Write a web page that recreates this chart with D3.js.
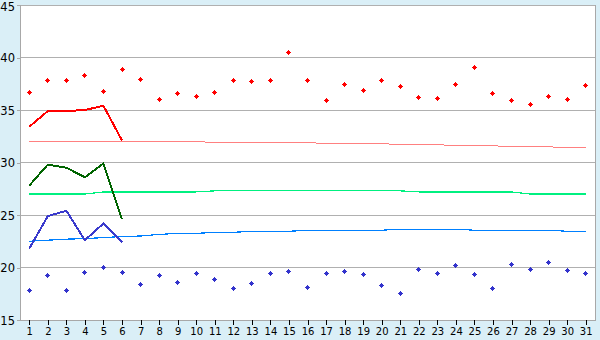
<!DOCTYPE html>
<html>
<head>
<meta charset="utf-8">
<script src="https://cdn.jsdelivr.net/npm/d3@7"></script>
<style>
    body { margin: 0; background: #daeff7; }
    svg { display: block; font-family: "DejaVu Sans", Verdana, sans-serif; }
</style>
</head>
<body>
<div id="chart"></div>
<script>
// days of the month
const days = [1,2,3,4,5,6,7,8,9,10,11,12,13,14,15,16,17,18,19,20,21,22,23,24,25,26,27,28,29,30,31];
const yTicks = [15,20,25,30,35,40,45];

// daily max / min points
const maxPoints = [36.7,37.8,37.8,38.3,36.8,38.9,37.9,36.0,36.6,36.3,36.7,37.8,37.7,37.8,40.5,37.8,35.9,37.4,36.9,37.8,37.2,36.2,36.1,37.4,39.0,36.6,35.9,35.5,36.3,36.0,37.3];
const minPoints = [17.8,19.2,17.8,19.5,20.0,19.5,18.4,19.2,18.6,19.4,18.9,18.0,18.5,19.4,19.6,18.1,19.4,19.6,19.3,18.3,17.5,19.8,19.4,20.2,19.3,18.0,20.3,19.8,20.5,19.7,19.4];

// current lines (first 6 days)
const lineHigh = [33.4,34.9,34.9,35.0,35.4,32.1];
const lineMean = [27.8,29.8,29.5,28.6,29.9,24.6];
const lineLow  = [21.8,24.9,25.4,22.6,24.2,22.4];

// normals
const normHigh = [32.0,32.0,32.0,32.0,32.0,32.0,32.0,32.0,32.0,32.0,31.9,31.9,31.9,31.9,31.9,31.9,31.8,31.8,31.8,31.8,31.7,31.7,31.7,31.6,31.6,31.6,31.5,31.5,31.5,31.4,31.4];
const normMean = [27.0,27.0,27.0,27.0,27.2,27.2,27.2,27.2,27.2,27.2,27.3,27.3,27.3,27.3,27.3,27.3,27.3,27.3,27.3,27.3,27.3,27.2,27.2,27.2,27.2,27.2,27.2,27.0,27.0,27.0,27.0];
const normLow  = [22.5,22.6,22.7,22.75,22.85,22.95,23.0,23.15,23.25,23.25,23.35,23.35,23.45,23.45,23.45,23.55,23.55,23.55,23.55,23.55,23.65,23.65,23.65,23.65,23.55,23.55,23.55,23.55,23.55,23.45,23.45];

var width = 600,
    height = 340,
    plotLeft = 20, plotTop = 5, plotRight = 595, plotBottom = 320;

var svg = d3.select("#chart")
    .append("svg")
    .attr("width", width)
    .attr("height", height);

var xScale = d3.scalePoint()
    .domain(days)
    .range([plotLeft, plotRight])
    .padding(0.5);

var yScale = d3.scaleLinear()
    .domain([15, 45])
    .range([plotBottom, plotTop]);

// plot area
svg.append("rect")
    .attr("x", plotLeft).attr("y", plotTop)
    .attr("width", plotRight - plotLeft).attr("height", plotBottom - plotTop)
    .attr("fill", "#fff")
    .attr("stroke", "#a8a8a8")
    .attr("shape-rendering", "crispEdges");

// grid
svg.selectAll(".grid")
    .data(yTicks)
    .enter()
    .append("line")
    .attr("x1", plotLeft).attr("x2", plotRight)
    .attr("y1", d => yScale(d)).attr("y2", d => yScale(d))
    .attr("stroke", "#b0b0b0")
    .attr("shape-rendering", "crispEdges");

var yAxis = d3.axisLeft(yScale).tickValues(yTicks).tickSize(3).tickPadding(2);
var gY = svg.append("g")
    .attr("transform", "translate(" + plotLeft + ",0)")
    .call(yAxis);
gY.select(".domain").attr("stroke", "#a8a8a8");
gY.selectAll(".tick line").attr("stroke", "#a8a8a8");
gY.selectAll("text")
    .attr("font-size", 11.5)
    .attr("font-family", "DejaVu Sans")
    .attr("fill", "#000")
    .attr("dy", d => d == 45 ? "0.45em" : "0.35em");

var xAxis = d3.axisBottom(xScale).tickSize(5).tickPadding(3);
var gX = svg.append("g")
    .attr("transform", "translate(0," + plotBottom + ")")
    .call(xAxis);
gX.select(".domain").attr("stroke", "#a8a8a8").attr("d", "M" + plotLeft + ",0.5H" + plotRight);
gX.selectAll(".tick line").attr("stroke", "#000");
gX.selectAll("text").attr("font-size", 10).attr("font-family", "DejaVu Sans").attr("fill", "#000");

svg.selectAll(".domain, .tick line").attr("shape-rendering", "crispEdges");

function drawLine(values, color, w) {
    var line = d3.line()
        .x((d, i) => xScale(days[i]))
        .y(d => yScale(d));
    svg.append("path")
        .datum(values)
        .attr("d", line)
        .attr("fill", "none")
        .attr("stroke", color)
        .attr("stroke-width", w)
        .attr("shape-rendering", "crispEdges");
}

drawLine(normHigh, "#ff8080", 1);
drawLine(normMean, "#00f080", 1.2);
drawLine(normLow, "#0080ff", 1.2);
drawLine(lineHigh, "#ff0000", 2);
drawLine(lineMean, "#006400", 2);
drawLine(lineLow, "#3a3acc", 2);

// small diamond markers
var marker = "M-0.5,-2.5h1v1h1v1h1v1h-1v1h-1v1h-1v-1h-1v-1h-1v-1h1v-1h1z";

function drawPoints(values, color) {
    svg.selectAll(null)
        .data(values)
        .enter()
        .append("path")
        .attr("d", marker)
        .attr("transform", (d, i) => "translate(" + (Math.floor(xScale(days[i])) + 0.5) + "," + (Math.floor(yScale(d)) + 0.5) + ")")
        .attr("fill", color)
        .attr("shape-rendering", "crispEdges");
}

drawPoints(maxPoints, "#ff0000");
drawPoints(minPoints, "#3333cc");
</script>
</body>
</html>
